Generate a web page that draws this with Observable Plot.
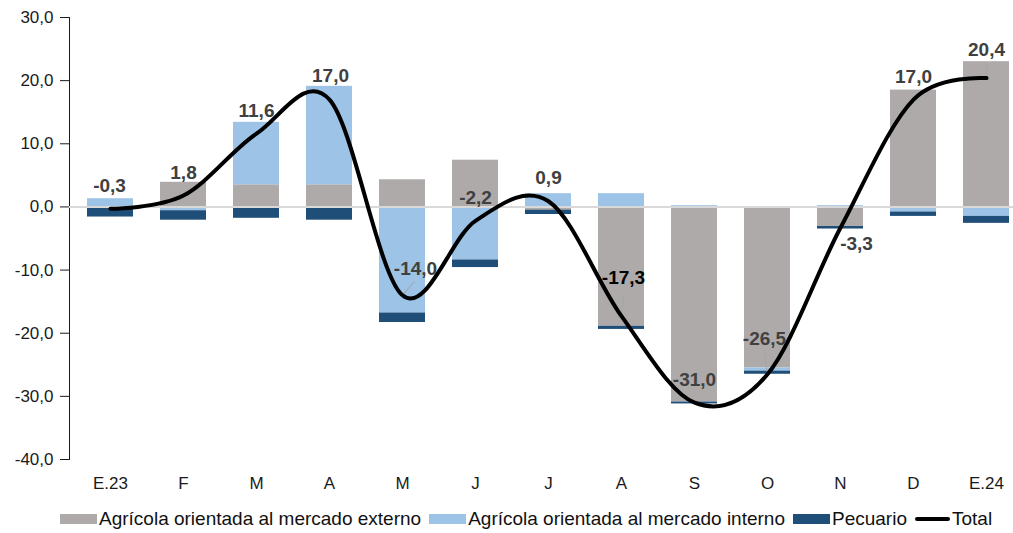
<!DOCTYPE html>
<html><head><meta charset="utf-8">
<script src="https://cdn.jsdelivr.net/npm/d3@7"></script>
<script src="https://cdn.jsdelivr.net/npm/@observablehq/plot@0.6"></script>
<style>
body{margin:0;background:#fff;font-family:"Liberation Sans",Arial,sans-serif;overflow:hidden}
#legend{display:flex;align-items:center;margin-top:18px;padding-left:60px;font-size:19px;color:#111;white-space:nowrap;line-height:22px}
.item{display:flex;align-items:center;margin-right:8px}
.sw{width:37px;height:10px;margin-right:2px}
.ln{width:35px;height:4px;border-radius:2px;margin-right:2px}
</style></head><body><div id="chart"></div><div id="legend"></div>
<script>
const categories = ["E.23","F","M","A","M","J","J","A","S","O","N","D","E.24"];
const externo  = [-0.1, 3.9, 3.5, 3.5, 4.3, 7.4, -0.5, -18.9, -30.9, -25.5, -3.1, 18.5, 23.0];
const interno  = [ 1.3, -0.6, 9.9, 15.6, -16.8, -8.4, 2.1, 2.1, 0.2, -0.5, 0.2, -0.8, -1.5];
const pecuario = [-1.5, -1.5, -1.8, -2.1, -1.5, -1.2, -0.7, -0.5, -0.3, -0.5, -0.4, -0.7, -1.1];
const total    = [-0.3, 1.8, 11.6, 17.0, -14.0, -2.2, 0.9, -17.3, -31.0, -26.5, -3.3, 17.0, 20.4];
const yTicks = [-40, -30, -20, -10, 0, 10, 20, 30];
const seriesNames = ["Agrícola orientada al mercado externo", "Agrícola orientada al mercado interno", "Pecuario", "Total"];
const colors = ["#aeaaaa", "#9dc3e6", "#1f4e79", "#000000"];

// layout only: label offsets in px relative to the Total point
const labelOffsets = [[-1,-23],[0,-23],[0,-23],[1,-24],[13,-26],[0,-23],[0,-23],[2,-38],[0,-23],[-3,-35],[16,16],[0,-23],[0,-28]];
const labelColors = total.map((v, i) => i === 7 ? "#000" : "#404040");
// leader lines: [index, length px, rotation deg]
const leaders = [[4, 18, 41], [7, 23, 6], [9, 23, -8], [12, 13, 0]];

const fmt = v => v.toFixed(1).replace(".", ",");
const idx = d3.range(categories.length);
const rows = idx.flatMap(i => [
  {i, serie: seriesNames[0], v: externo[i]},
  {i, serie: seriesNames[1], v: interno[i]},
  {i, serie: seriesNames[2], v: pecuario[i]}
]);
const tot = idx.map(i => ({i, v: total[i]}));

const leaderShape = {draw(ctx, l) { ctx.moveTo(0, 0); ctx.lineTo(0, -l); }};

const marks = [
  Plot.barY(rows, {x: "i", y: "v", fill: "serie"}),
  Plot.ruleY([0], {stroke: "#d9d9d9", strokeWidth: 2}),
  ...leaders.map(([k, len, rot]) => Plot.vector(tot.filter(d => d.i === k), {
    x: "i", y: "v", length: len, rotate: rot, anchor: "start",
    stroke: "#a6a6a6", strokeWidth: 1, shape: leaderShape
  })),
  Plot.line(tot, {x: "i", y: "v", curve: "cardinal", stroke: "#000", strokeWidth: 4}),
  ...tot.map((d, k) => Plot.text([d], {
    x: "i", y: "v", text: dd => fmt(dd.v),
    dx: labelOffsets[k][0], dy: labelOffsets[k][1],
    fill: labelColors[k], fontWeight: "bold", fontSize: 19, textAnchor: "middle", lineAnchor: "middle"
  }))
];

const chart = Plot.plot({
  width: 1013, height: 490,
  marginLeft: 69, marginRight: 0, marginTop: 17, marginBottom: 31,
  style: {fontFamily: "'Liberation Sans', Arial, sans-serif", fontSize: "17px", color: "#1a1a1a", background: "white", overflow: "visible"},
  x: {type: "band", domain: idx, range: [70, 1026], paddingInner: 0.374, paddingOuter: 0.187, align: 0.5,
      tickSize: 0, tickPadding: 17, tickFormat: i => categories[i], label: null},
  y: {domain: [-40, 30], ticks: yTicks, tickFormat: fmt, tickSize: 9, tickPadding: 7, line: true, label: null},
  color: {domain: seriesNames.slice(0, 3), range: colors.slice(0, 3)},
  marks
});
document.getElementById("chart").appendChild(chart);

const legend = document.getElementById("legend");
seriesNames.forEach((name, k) => {
  const item = document.createElement("div");
  item.className = "item";
  const sw = document.createElement("span");
  sw.className = k === 3 ? "ln" : "sw";
  sw.style.background = colors[k];
  const t = document.createElement("span");
  t.textContent = name;
  item.appendChild(sw); item.appendChild(t);
  legend.appendChild(item);
});
</script></body></html>
